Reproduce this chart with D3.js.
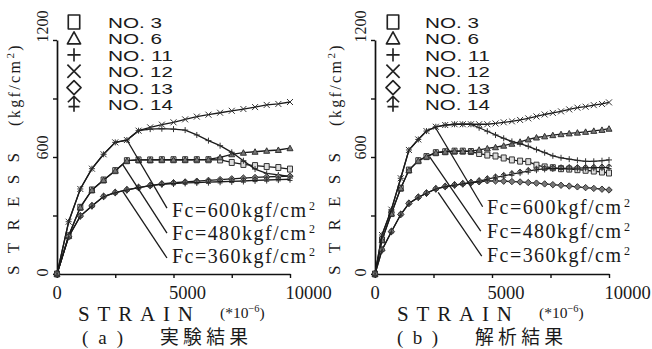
<!DOCTYPE html>
<html>
<head>
<meta charset="utf-8">
<script src="https://d3js.org/d3.v7.min.js"></script>
<style>
  body { margin: 0; background: #fff; }
  text { fill: #1a1a1a; }
</style>
</head>
<body>
<div id="chart"></div>
<script>
// ---- data (strain in 1e-6, stress in kgf/cm2) ----
var xTicks = [0, 2500, 5000, 7500, 10000];
var xTickLabels = ["0", "", "5000", "", "10000"];
var yTicks = [0, 300, 600, 900, 1200];
var yTickLabels = ["0", "", "600", "", "1200"];

var seriesNames = ["NO. 3", "NO. 6", "NO. 11", "NO. 12", "NO. 13", "NO. 14"];
var seriesShapes = ["o", "tri", "plus", "x", "dia", "arrow"];
var fcLabels = ["600", "480", "360"];

// (a) test results
var strainA = [0,500,1000,1500,2000,2500,3000,3500,4000,4500,5000,5500,6000,6500,7000,7500,8000,8500,9000,9500,10000];
var a_no3  = [0,196,342,431,482,530,581,585,585,586,586,586,586,586,585,572,562,556,551,546,538];
var a_no6  = [0,196,342,431,482,530,581,585,585,586,586,586,587,588,598,614,622,627,632,636,645];
var a_no11 = [0,268,436,540,614,675,687,735,743,745,743,738,713,684,658,624,581,538,516,508,500];
var a_no12 = [0,268,436,540,614,675,687,735,752,766,778,793,807,817,827,837,846,856,867,872,882];
var a_no13 = [0,191,297,349,397,417,431,443,453,462,468,472,476,480,484,488,492,495,498,500,502];
var a_no14 = [0,191,297,349,397,417,431,443,453,460,464,467,469,471,473,475,477,480,482,484,486];

// (b) analysis results
var strainB = [0,300,700,1100,1450,1850,2200,2600,3000,3400,3750,4100,4450,4800,5150,5500,5850,6200,6550,6900,7250,7600,7950,8300,8650,9000,9350,9700,10000];
var b_no3  = [0,175,310,440,533,581,602,622,627,630,630,628,618,610,605,595,585,579,576,558,549,545,540,538,535,532,528,523,518];
var b_no6  = [0,175,310,440,533,581,602,622,627,630,630,630,637,644,650,658,668,678,690,700,706,712,717,721,725,729,734,739,745];
var b_no11 = [0,200,330,491,636,690,733,755,764,768,768,768,750,732,713,696,680,668,655,638,622,606,596,589,583,578,578,581,585];
var b_no12 = [0,200,330,491,636,690,733,755,764,768,768,768,768,768,772,778,783,790,798,808,818,826,834,844,853,858,866,872,880];
var b_no13 = [0,123,217,305,362,393,414,436,448,456,462,468,473,478,477,476,474,472,469,466,462,458,455,451,447,443,439,435,431];
var b_no14 = [0,123,217,305,362,393,414,436,448,456,462,468,476,486,495,503,512,520,528,535,539,541,542,543,543,544,545,546,547];

var W = 652, H = 349;
var svg = d3.select('#chart').append('svg').attr('width', W).attr('height', H);
svg.append('rect').attr('width', W).attr('height', H).attr('fill', '#fff');

// marker outlines, unit size ~6px
function shapePath(kind) {
  switch (kind) {
    case 'o':     return 'M-2.5,-3h5v6h-5z';
    case 'tri':   return 'M0,-3L3,2.5H-3Z';
    case 'plus':  return 'M-3,0H3M0,-3V3';
    case 'x':     return 'M-3,-3L3,3M-3,3L3,-3';
    case 'dia':   return 'M0,-3.2L3.2,0L0,3.2L-3.2,0Z';
    case 'arrow': return 'M0,3.5V-3.5M-2.8,-0.8L0,-3.5L2.8,-0.8M-2.5,1.2H2.5';
  }
}

function drawPanel(p) {
  var x = d3.scaleLinear().domain([0, 10000]).range([p.left, p.right]);
  var y = d3.scaleLinear().domain([0, 1200]).range([274, 40]);
  var g = svg.append('g');

  // x axis
  var xa = g.append('g').attr('transform', 'translate(0,274)')
    .call(d3.axisBottom(x).tickValues(xTicks).tickSize(4).tickSizeOuter(0)
      .tickFormat(function(d, i) { return xTickLabels[i]; }));
  xa.selectAll('.tick text')
    .attr('text-anchor', 'start').attr('x', -5).attr('y', 24.5).attr('dy', 0)
    .attr('font-family', 'Liberation Serif').attr('font-size', 18.5);

  // y axis, labels read upward
  var ya = g.append('g').attr('transform', 'translate(' + p.left + ',0)')
    .call(d3.axisLeft(y).tickValues(yTicks).tickSize(4).tickSizeOuter(0)
      .tickFormat(function(d, i) { return yTickLabels[i]; }));
  ya.selectAll('.tick text')
    .attr('transform', 'rotate(-90)')
    .attr('text-anchor', 'start').attr('x', -2).attr('y', -9).attr('dy', 0)
    .attr('font-family', 'Liberation Serif').attr('font-size', 16);
  g.selectAll('.domain').attr('stroke', '#111').attr('stroke-width', 1.7);
  g.selectAll('.tick line').attr('stroke', '#111').attr('stroke-width', 1.4);

  // curves
  var line = d3.line().x(function(d) { return x(d[0]); }).y(function(d) { return y(d[1]); });
  p.series.forEach(function(vals, i) {
    var pts = d3.zip(p.strain, vals);
    g.append('path').datum(pts).attr('d', line)
      .attr('fill', 'none').attr('stroke', '#1a1a1a').attr('stroke-width', 1.3);
    g.append('g').selectAll('path').data(pts).enter().append('path')
      .attr('transform', function(d) { return 'translate(' + x(d[0]) + ',' + y(d[1]) + ')'; })
      .attr('d', shapePath(seriesShapes[i]))
      .attr('fill', seriesShapes[i] == 'o' ? '#ddd' : '#777')
      .attr('stroke', '#333').attr('stroke-width', 1);
  });

  // Fc annotations with leader lines
  p.notes.forEach(function(n, i) {
    g.append('line')
      .attr('x1', x(n.from[0])).attr('y1', y(n.from[1]))
      .attr('x2', x(n.to[0])).attr('y2', y(n.to[1]))
      .attr('stroke', '#1a1a1a').attr('stroke-width', 1.3);
    var tx = p.fcX, ty = p.fcY[i];
    g.append('text').attr('x', tx).attr('y', ty)
      .attr('font-family', 'Liberation Serif').attr('font-size', 20)
      .attr('textLength', 134).attr('lengthAdjust', 'spacing')
      .text('Fc=' + fcLabels[i] + 'kgf/cm');
    g.append('text').attr('x', tx + 137).attr('y', ty - 7)
      .attr('font-family', 'Liberation Serif').attr('font-size', 12)
      .text('2');
  });

  // legend
  seriesNames.forEach(function(name, i) {
    var ly = 28 + i * 16.4;
    g.append('path')
      .attr('transform', 'translate(' + p.legX + ',' + (ly - 6) + ') scale(2.2)')
      .attr('d', i == 0 ? 'M-2.6,-3.2h5.2v6.4h-5.2z' : shapePath(seriesShapes[i]))
      .attr('fill', 'none').attr('stroke', '#222').attr('stroke-width', 0.75)
      .attr('stroke-linejoin', 'round');
    g.append('text').attr('x', p.legTextX).attr('y', ly)
      .attr('font-family', 'Liberation Sans Narrow, Liberation Sans').attr('font-size', 14.3)
      .attr('textLength', 10.8 * name.length).attr('lengthAdjust', 'spacingAndGlyphs')
      .text(name);
  });

  // axis titles
  g.append('text')
    .attr('transform', 'translate(' + p.titleX + ',275) rotate(-90)')
    .attr('font-family', 'Liberation Serif').attr('font-size', 17)
    .attr('textLength', 122).attr('lengthAdjust', 'spacing')
    .text('STRESS');
  var unit = g.append('text')
    .attr('transform', 'translate(' + (p.titleX + 1) + ',126) rotate(-90)')
    .attr('font-family', 'Liberation Serif').attr('font-size', 16)
    .attr('letter-spacing', 2.4);
  unit.append('tspan').text('(kgf/cm');
  unit.append('tspan').attr('font-size', 11).attr('dy', -6).text('2');
  unit.append('tspan').attr('dy', 6).text(')');

  g.append('text').attr('x', p.strainX).attr('y', 321)
    .attr('font-family', 'Liberation Serif').attr('font-size', 21)
    .attr('textLength', 115).attr('lengthAdjust', 'spacing')
    .text('STRAIN');
  var sc = g.append('text').attr('x', p.strainX + 142).attr('y', 317.5)
    .attr('font-family', 'Liberation Serif').attr('font-size', 15.5);
  sc.append('tspan').text('(*10');
  sc.append('tspan').attr('font-size', 10.5).attr('dy', -6).text('\u22126');
  sc.append('tspan').attr('dy', 6).text(')');

  g.append('text').attr('x', p.capX).attr('y', 343.5)
    .attr('font-family', 'Liberation Serif').attr('font-size', 19)
    .attr('textLength', 41).attr('lengthAdjust', 'spacing')
    .text('(' + p.tag + ')');
  g.append('text').attr('x', p.capX + 78).attr('y', 343.5)
    .attr('font-family', 'Noto Sans CJK JP').attr('font-size', 18.8)
    .attr('textLength', 88).attr('lengthAdjust', 'spacing')
    .text(p.caption);
}

drawPanel({
  left: 57, right: 290,
  strain: strainA,
  series: [a_no3, a_no6, a_no11, a_no12, a_no13, a_no14],
  notes: [{from: [3000, 687], to: [4720, 338]},
          {from: [2830, 560], to: [4720, 210]},
          {from: [2830, 422], to: [4720, 82]}],
  fcX: 172, fcY: [217, 240, 263],
  legX: 74, legTextX: 108,
  titleX: 19, strainX: 78, capX: 82,
  tag: 'a', caption: '実験結果'
});

drawPanel({
  left: 375, right: 609,
  strain: strainB,
  series: [b_no3, b_no6, b_no11, b_no12, b_no13, b_no14],
  notes: [{from: [2560, 755], to: [4600, 345]},
          {from: [2330, 602], to: [4520, 220]},
          {from: [2700, 418], to: [4560, 92]}],
  fcX: 487, fcY: [214, 238, 262],
  legX: 393, legTextX: 425,
  titleX: 340, strainX: 397, capX: 397,
  tag: 'b', caption: '解析結果'
});
</script>
</body>
</html>
